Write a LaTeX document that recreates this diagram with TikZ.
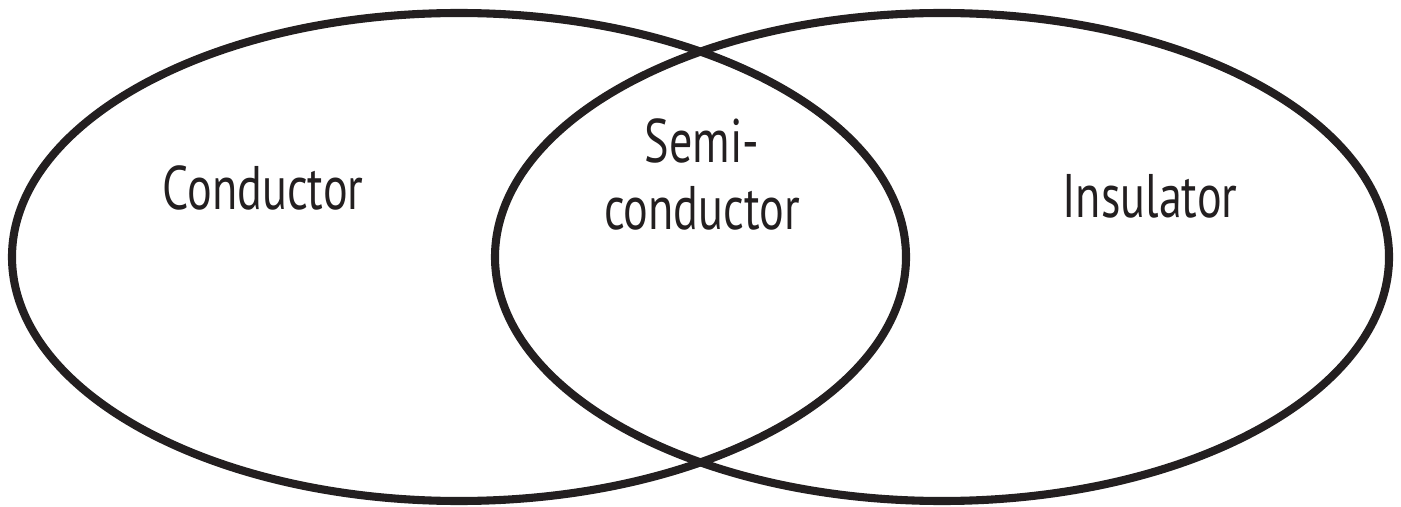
\documentclass[tikz,border=0pt]{standalone}
\usepackage{fontspec}
\setmainfont[FakeStretch=0.75]{PT Sans}
\usepackage{tikz}
\usetikzlibrary{positioning}
\definecolor{inkblack}{HTML}{231F20}

\begin{document}
\begin{tikzpicture}[x=0.01cm, y=0.01cm,
    setline/.style={draw=inkblack, line width=2.3pt},
    setlabel/.style={text=inkblack, font=\fontsize{17.5}{19.3}\selectfont, anchor=base, align=center, inner sep=0pt}]
    \useasboundingbox (0,0) rectangle (1401,506);

    % The two sets
    \draw[setline] (459,249) ellipse (447 and 244);
    \draw[setline] (942,249) ellipse (447 and 244);

    % Labels
    \node[setlabel] (cond) at (263,296) {Conductor};
    \node[setlabel] (semi) at (702,276) {Semi-\\conductor};
    \node[setlabel] (insul) at (1150,288) {Insulator};
\end{tikzpicture}
\end{document}
